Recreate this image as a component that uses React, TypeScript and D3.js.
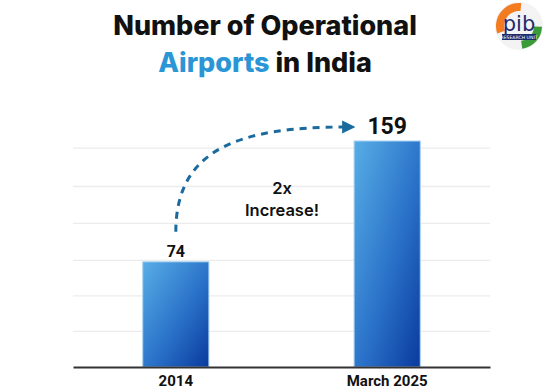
import React from "react";
import * as d3 from "d3";

const categories = ["2014", "March 2025"];
const airports = [74, 159];
const gridValues = [25, 50, 75, 101, 127, 154];
const titleLine1 = "Number of Operational";
const titleBlue = "Airports";
const titleRest = " in India";
const noteLines = ["2x", "Increase!"];

export default function App() {
    const ref = React.useRef<SVGSVGElement>(null);

    React.useEffect(() => {
        const width = 555;
        const height = 390;
        const marginLeft = 73;
        const marginRight = 65;
        const baseline = 367;

        const svg = d3
            .select(ref.current)
            .attr("width", width)
            .attr("height", height)
            .attr("viewBox", [0, 0, width, height])
            .style("background", "#fff");

        const x = d3
            .scaleBand()
            .domain(categories)
            .range([marginLeft, width - marginRight])
            .paddingInner(0.687)
            .paddingOuter(0.33);

        const y = d3.scaleLinear().domain([0, 159]).range([baseline, 141]);

        const defs = svg.append("defs");
        const grad = defs
            .append("linearGradient")
            .attr("id", "barGrad")
            .attr("x1", "0%")
            .attr("y1", "0%")
            .attr("x2", "100%")
            .attr("y2", "100%");
        grad.append("stop").attr("offset", "0%").attr("stop-color", "#58aee6");
        grad.append("stop").attr("offset", "55%").attr("stop-color", "#2a72c9");
        grad.append("stop").attr("offset", "100%").attr("stop-color", "#0a3a9e");

        defs.append("marker")
            .attr("id", "arrowHead")
            .attr("viewBox", "0 0 10 10")
            .attr("refX", 3)
            .attr("refY", 5)
            .attr("markerWidth", 4.4)
            .attr("markerHeight", 4.4)
            .attr("orient", "auto")
            .append("path")
            .attr("d", "M0,0 L10,5 L0,10 Z")
            .attr("fill", "#1b6a9e");

        // title
        const title = svg
            .append("text")
            .attr("text-anchor", "middle")
            .attr("font-family", "Inter, 'Open Sans', sans-serif")
            .attr("font-weight", 800)
            .attr("font-size", 27)
            .attr("fill", "#111");
        title.append("tspan").attr("x", 265).attr("y", 35).text(titleLine1);
        const t2 = title.append("tspan").attr("x", 265).attr("y", 72);
        t2.append("tspan").attr("fill", "#2b96d6").text(titleBlue);
        t2.append("tspan").text(titleRest);

        // logo
        const logo = svg.append("g").attr("transform", "translate(519,26)");
        logo.append("circle").attr("r", 24).attr("fill", "#f3f3f3");
        logo.append("path")
            .attr("d", d3.arc()({ innerRadius: 15, outerRadius: 23, startAngle: -1.9, endAngle: 0.1 } as any))
            .attr("fill", "#f47c20");
        logo.append("path")
            .attr("d", d3.arc()({ innerRadius: 15, outerRadius: 23, startAngle: 1.6, endAngle: 3.0 } as any))
            .attr("fill", "#3b9a3a");
        logo.append("text")
            .attr("text-anchor", "middle")
            .attr("y", 5)
            .attr("font-family", "'DejaVu Sans', sans-serif")
            .attr("font-size", 21)
            .attr("fill", "#1f2a6b")
            .text("pib");
        logo.append("rect")
            .attr("x", -17)
            .attr("y", 8)
            .attr("width", 34)
            .attr("height", 6)
            .attr("fill", "#1f2a6b");
        logo.append("text")
            .attr("text-anchor", "middle")
            .attr("y", 12.8)
            .attr("font-family", "'DejaVu Sans', sans-serif")
            .attr("font-size", 4.6)
            .attr("fill", "#fff")
            .text("RESEARCH UNIT");

        // grid
        svg.append("g")
            .selectAll("line")
            .data(gridValues)
            .join("line")
            .attr("x1", marginLeft)
            .attr("x2", width - marginRight)
            .attr("y1", (d) => y(d))
            .attr("y2", (d) => y(d))
            .attr("stroke", "#ececec")
            .attr("stroke-width", 1.3);

        // bars
        svg.append("g")
            .selectAll("rect")
            .data(airports)
            .join("rect")
            .attr("x", (d, i) => x(categories[i])!)
            .attr("y", (d) => y(d))
            .attr("width", x.bandwidth())
            .attr("height", (d) => y(0) - y(d))
            .attr("fill", "url(#barGrad)")
            .attr("stroke", "#a8d2f2")
            .attr("stroke-width", 1);

        // value labels
        svg.append("g")
            .selectAll("text")
            .data(airports)
            .join("text")
            .attr("x", (d, i) => x(categories[i])! + x.bandwidth() / 2)
            .attr("y", (d) => y(d) - (d > 100 ? 7 : 5))
            .attr("text-anchor", "middle")
            .attr("font-family", "Roboto, sans-serif")
            .attr("font-weight", 700)
            .attr("font-size", (d) => (d > 100 ? 23 : 16))
            .attr("fill", "#111")
            .text((d) => d);

        // x axis
        const axis = svg
            .append("g")
            .attr("transform", `translate(0,${baseline})`)
            .call(d3.axisBottom(x).tickSize(0).tickPadding(8));
        axis.select(".domain").attr("stroke", "#333").attr("stroke-width", 2);
        axis.selectAll("text")
            .attr("font-family", "Roboto, sans-serif")
            .attr("font-weight", 700)
            .attr("font-size", 15)
            .attr("fill", "#111");

        // dashed arrow
        const x0 = x(categories[0])! + x.bandwidth() / 2;
        const x1 = x(categories[1])!;
        const yTop = y(airports[1]) - 14;
        const yStart = y(airports[0]) - 30;
        const p = d3.path();
        p.moveTo(x0, yStart);
        p.bezierCurveTo(x0, yTop + 22, x0 + 63, yTop, x1 - 8, yTop);
        svg.append("path")
            .attr("d", p.toString())
            .attr("fill", "none")
            .attr("stroke", "#1b6a9e")
            .attr("stroke-width", 3)
            .attr("stroke-dasharray", "7 6")
            .attr("marker-end", "url(#arrowHead)");

        // note
        const note = svg
            .append("text")
            .attr("text-anchor", "middle")
            .attr("font-family", "Inter, sans-serif")
            .attr("font-weight", 600)
            .attr("font-size", 16.5)
            .attr("fill", "#111");
        note.selectAll("tspan")
            .data(noteLines)
            .join("tspan")
            .attr("x", 282)
            .attr("y", (d, i) => 194 + i * 22)
            .text((d) => d);

        return () => {
            svg.selectAll("*").remove();
        };
    }, []);

    return (
        <div style={{ position: "absolute", left: 0, top: 0 }}>
            <svg ref={ref} style={{ display: "block" }}></svg>
        </div>
    );
}
